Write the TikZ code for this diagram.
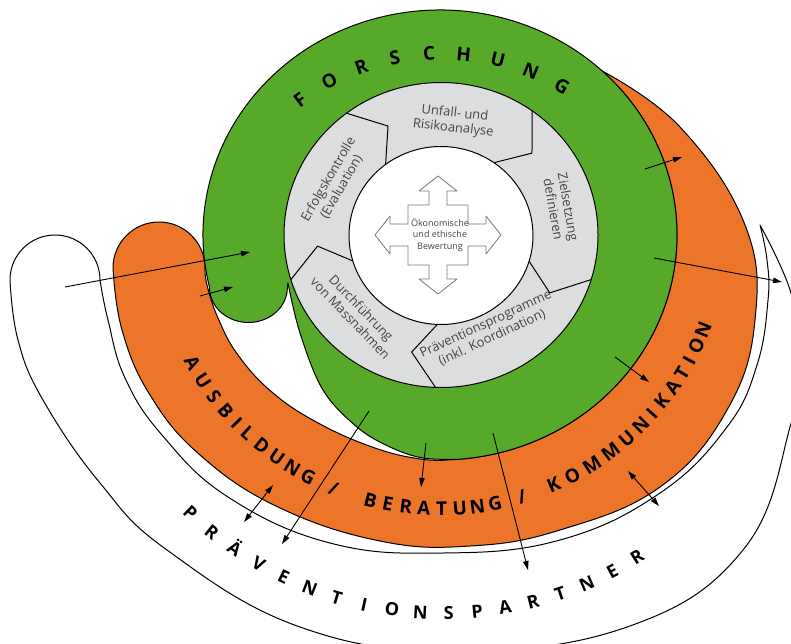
\documentclass[tikz,border=0pt]{standalone}
\usepackage{fontspec}
\setmainfont{Open Sans}
\usetikzlibrary{arrows.meta,calc}
\definecolor{fgreen}{RGB}{87,170,41}
\definecolor{forange}{RGB}{236,117,41}
\definecolor{fgray}{RGB}{220,221,223}
\definecolor{ftext}{RGB}{68,68,70}
\definecolor{fcross}{RGB}{120,120,120}
\newcommand\mybig{\fontsize{19}{19}\selectfont\bfseries}
\newcommand\mypart{\fontsize{18}{18}\selectfont\bfseries}
\newcommand\myring{\fontsize{13}{15}\selectfont}
\newcommand\mycenter{\fontsize{9}{11.3}\selectfont}
\newcommand\myslash{/}
\begin{document}
\begin{tikzpicture}[x=1pt,y=1pt,line join=round]
\tikzset{
  outline/.style={draw=black, line width=1pt},
  bandwhite/.style={outline, fill=white},
  bandorange/.style={outline, fill=forange},
  bandgreen/.style={outline, fill=fgreen},
  ringfill/.style={outline, fill=fgray},
  sepline/.style={draw=black, line width=1pt},
  bigletter/.style={anchor=base, inner sep=0pt, text=black},
  ringtext/.style={font=\myring, text=ftext, align=center, inner sep=0pt},
  crossshape/.style={draw=fcross, fill=white, line width=0.8pt},
  flow/.style={draw=black, line width=0.9pt, -{Triangle[length=9pt,width=5.5pt]}},
  flowboth/.style={draw=black, line width=0.9pt, {Triangle[length=9pt,width=5.5pt]}-{Triangle[length=9pt,width=5.5pt]}},
}
\useasboundingbox (0,0) rectangle (791,-644);
\fill[white] (0,0) rectangle (791,-644);
\begin{scope}
\clip (0,0) rectangle (791,-644);
% --- white band (Praeventionspartner)
\path[bandwhite] (100,-280) arc[radius=45, start angle=0, end angle=180]
  -- plot[smooth, tension=0.7] coordinates {(10,-280)(18,-340)(43,-400)(100,-483)(167,-550)(300,-627)(455,-651)(627,-627)(743,-550)(790,-427)(798,-355)(791,-293)(760,-225)}
  -- plot[smooth, tension=0.7] coordinates {(760,-225)(767,-260)(768,-300)(757,-365)(727,-427)(660,-493)(560,-540)(443,-553)(330,-543)(228,-497)(162,-435)(125,-378)(108,-320)(100,-280)}
  -- cycle;
% --- orange band
\path[bandorange] (205,-268) arc[radius=46, start angle=0, end angle=180]
  -- plot[smooth, tension=0.7] coordinates {(113,-268)(122,-330)(150,-395)(200,-455)(278,-507)(380,-541)(470,-546)(560,-530)(660,-487)(727,-410)(755,-320)(745,-225)(680,-127)(602.2,-71.0)}
  arc[x radius=237, y radius=225, start angle=46.8, end angle=-88]
  -- plot[smooth, tension=0.7] coordinates {(448.3,-459.9)(420,-459)(375,-448)(320,-424)(273,-393)(238,-355)(218,-318)(207,-285)(205,-268)}
  -- cycle;
% --- green band
\path[bandgreen] ($(440,-235)+(193.5:237 and 225)$)
  arc[x radius=237, y radius=225, start angle=193.5, end angle=-85]
  -- plot[smooth, tension=0.6] coordinates {(460.7,-459.2)(423,-458)(390,-447)(357,-427)(323,-390)(300,-333)(288,-283)}
  -- (287.35,-287.5)
  arc[x radius=38.9, y radius=35, start angle=0, end angle=-180]
  -- cycle;
% --- grey ring
\path[ringfill] (441,-235) ellipse[x radius=157, y radius=152.5];
\foreach \t [count=\i] in {127,54.5,-17,-92,197}{
  \coordinate (so\i) at ($(441,-235)+(\t:157 and 152.5)$);
  \coordinate (sk\i) at ($(441,-235)+(\t-11.7:124 and 120.5)$);
  \coordinate (si\i) at ($(441,-235)+(\t:92 and 89)$);
  \draw[sepline] (so\i) -- (sk\i) -- (si\i);
}
\path[outline, fill=white] (441,-235.5) ellipse[x radius=92, y radius=89];
\end{scope}
% --- centre cross
\begin{scope}[shift={(438,-235)}]
\path[crossshape] (0,59) -- (19,44) -- (9,44) -- (9,30) -- (30,30) -- (30,11) -- (48,11) -- (48,19) -- (63,0)
  -- (48,-19) -- (48,-11) -- (30,-11) -- (30,-30) -- (9,-30) -- (9,-44) -- (19,-44) -- (0,-59)
  -- (-19,-44) -- (-9,-44) -- (-9,-30) -- (-30,-30) -- (-30,-11) -- (-48,-11) -- (-48,-19) -- (-63,0)
  -- (-48,19) -- (-48,11) -- (-30,11) -- (-30,30) -- (-9,30) -- (-9,44) -- (-19,44) -- cycle;
\node[font=\mycenter, text=ftext, align=center, inner sep=0pt] (bewertung) at (2,0) {Ökonomische\\und ethische\\Bewertung};
\end{scope}
% --- ring labels
\node[ringtext, rotate=-6.5] (unfall) at (454,-121) {Unfall- und\\Risikoanalyse};
\node[ringtext, rotate=-80] (ziel) at (561,-208) {Zielsetzung\\definieren};
\node[ringtext, rotate=25] (praev) at (489,-331) {Präventionsprogramme\\(inkl. Koordination)};
\node[ringtext, rotate=-46] (durch) at (356,-313) {Durchführung\\von Massnahmen};
\node[ringtext, rotate=60] (erfolg) at (335,-183) {Erfolgskontrolle\\(Evaluation)};
% --- FORSCHUNG
\coordinate (fc) at (441,-290);
\foreach \l/\a [count=\i] in {F/126.5,O/118.1,R/109.7,S/101.3,C/92.9,H/84.5,U/76.1,N/67.7,G/59.3}
  \node[bigletter, font=\mybig, rotate=\a-90] (forsch\i) at ($(fc)+(\a:230.2)$) {\l};
% --- AUSBILDUNG / BERATUNG / KOMMUNIKATION
\coordinate (oc) at (440,-226);
\foreach \l/\a [count=\i] in {A/209.0,U/213.1,S/217.0,B/220.8,I/224.1,L/227.2,D/231.0,U/234.8,N/238.5,G/242.2,\myslash/247.9,B/255.8,E/259.4,R/263.1,A/266.7,T/270.3,U/274.0,N/277.6,G/281.2,\myslash/286.8,K/293.7,O/297.9,M/302.5,M/307.1,U/311.3,N/315.2,I/318.5,K/321.6,A/325.3,T/328.7,I/331.7,O/335.0,N/338.4}
  \node[bigletter, font=\mybig, rotate=\a+90] (abk\i) at ($(oc)+(\a:289.8)$) {\l};
% --- PRAEVENTIONSPARTNER
\coordinate (pc) at (442,-246);
\foreach \l [count=\i from 0] in {P,R,Ä,V,E,N,T,I,O,N,S,P,A,R,T,N,E,R}{
  \pgfmathsetmacro\a{226.7+4.435*\i}
  \node[bigletter, font=\mypart, rotate=\a+90] (partner\i) at ($(pc)+(\a:373.4)$) {\l};
}
% --- arrows
\coordinate (a1s) at (65,-287);   \coordinate (a1e) at (250,-252);
\coordinate (a2s) at (200,-296);  \coordinate (a2e) at (233,-287);
\coordinate (a3s) at (645,-169);  \coordinate (a3e) at (682,-157);
\coordinate (a4s) at (654,-258);  \coordinate (a4e) at (782,-282);
\coordinate (a5s) at (615,-357);  \coordinate (a5e) at (649,-382);
\coordinate (a6s) at (628,-471);  \coordinate (a6e) at (659,-506);
\coordinate (a7s) at (493,-433);  \coordinate (a7e) at (528,-570);
\coordinate (a8s) at (426,-443);  \coordinate (a8e) at (421,-487);
\coordinate (a9s) at (369,-411);  \coordinate (a9e) at (282,-544);
\coordinate (a10s) at (273,-485); \coordinate (a10e) at (244,-522);
\draw[flow] (a1s) -- (a1e);
\draw[flow] (a2s) -- (a2e);
\draw[flow] (a3s) -- (a3e);
\draw[flow] (a4s) -- (a4e);
\draw[flow] (a5s) -- (a5e);
\draw[flowboth] (a6s) -- (a6e);
\draw[flow] (a7s) -- (a7e);
\draw[flow] (a8s) -- (a8e);
\draw[flow] (a9s) -- (a9e);
\draw[flowboth] (a10s) -- (a10e);
\end{tikzpicture}
\end{document}
